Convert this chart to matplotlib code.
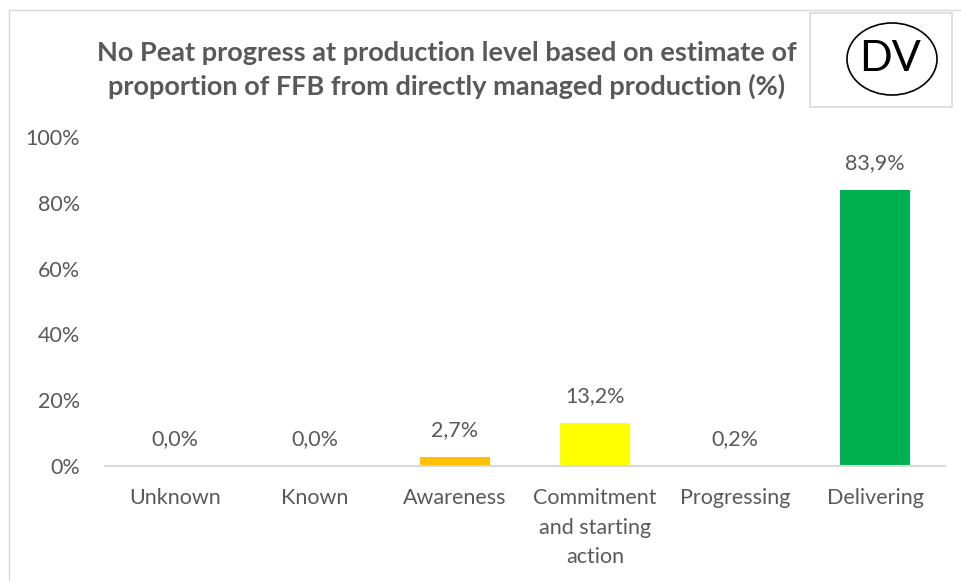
import matplotlib.pyplot as plt
from matplotlib.patches import Rectangle, Ellipse

# Data
categories = ["Unknown", "Known", "Awareness", "Commitment\nand starting\naction", "Progressing", "Delivering"]
values = [0.0, 0.0, 2.7, 13.2, 0.2, 83.9]
labels = ["0,0%", "0,0%", "2,7%", "13,2%", "0,2%", "83,9%"]
colors = ["#C00000", "#FF0000", "#FFC000", "#FFFF00", "#92D050", "#00B050"]
yticks = [0, 20, 40, 60, 80, 100]

plt.rcParams['font.family'] = ['Lato', 'DejaVu Sans']
grey = "#595959"

fig = plt.figure(figsize=(9.62, 5.81), dpi=100)
W, H = 962, 581

# outer chart border (cropped on right/bottom)
fig.patches.append(Rectangle((9 / W, -0.01), 1.0, 1 - 10 / H + 0.01, transform=fig.transFigure,
                             fill=False, edgecolor="#D9D9D9", linewidth=1))

ax = fig.add_axes([105 / W, 1 - 466 / H, 840 / W, (466 - 137) / H])
x = range(len(categories))
ax.bar(x, values, width=0.5, color=colors)
for i, (v, lab) in enumerate(zip(values, labels)):
    ax.annotate(lab, (i, v), xytext=(0, 12), textcoords="offset points",
                ha="center", va="bottom", fontsize=15.5, color=grey)

ax.set_xlim(-0.5, len(categories) - 0.5)
ax.set_ylim(0, 100)
ax.set_yticks(yticks)
ax.set_yticklabels([f"{t}%" for t in yticks], fontsize=15.5, color=grey)
ax.set_xticks(list(x))
ax.set_xticklabels(categories, fontsize=15.5, color=grey, linespacing=1.6)
ax.tick_params(axis="both", length=0)
ax.tick_params(axis="x", pad=16)
ax.tick_params(axis="y", pad=18)
for s in ["top", "right", "left"]:
    ax.spines[s].set_visible(False)
ax.spines["bottom"].set_color("#D9D9D9")
ax.spines["bottom"].set_linewidth(1.5)

fig.text(447 / W, 1 - 70 / H,
         "No Peat progress at production level based on estimate of\nproportion of FFB from directly managed production (%)",
         ha="center", va="center", fontsize=19.5, fontweight="bold", color=grey, linespacing=1.45)

# DV badge
fig.patches.append(Rectangle((810 / W, 1 - 107 / H), 142 / W, 94 / H, transform=fig.transFigure,
                             fill=False, edgecolor="#D9D9D9", linewidth=1.2))
fig.patches.append(Ellipse((892 / W, 1 - 59 / H), 90 / W, 72 / H, transform=fig.transFigure,
                           fill=False, edgecolor="black", linewidth=1.2))
fig.text(890 / W, 1 - 59 / H, "DV", ha="center", va="center", fontsize=31, color="black")

fig.savefig("out.png", dpi=100)
